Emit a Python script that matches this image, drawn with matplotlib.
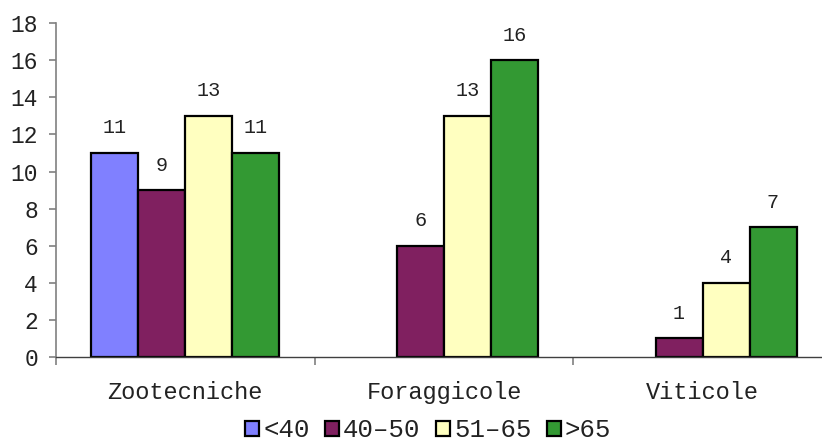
import matplotlib.pyplot as plt
import numpy as np

categories = ["Zootecniche", "Foraggicole", "Viticole"]
series_labels = ["<40", "40\u201250", "51\u201265", ">65"]
values = {
    "<40": [11, 0, 0],
    "40\u201250": [9, 6, 1],
    "51\u201265": [13, 13, 4],
    ">65": [11, 16, 7],
}
colors = ["#8080FF", "#802060", "#FFFFC0", "#339933"]

plt.rcParams["font.family"] = ["Liberation Mono", "DejaVu Sans Mono"]

fig = plt.figure(figsize=(8.22, 4.41), dpi=100)
ax = fig.add_axes([0.0681, 0.1905, 0.944, 0.757])

x = np.arange(len(categories))
width = 0.1815
for i, (lab, col) in enumerate(zip(series_labels, colors)):
    pos = x + (i - 1.5) * width
    for p, v in zip(pos, values[lab]):
        if v == 0:
            continue
        ax.bar(p, v, width, color=col, edgecolor="black", linewidth=1.6)
        ax.text(p, v + 1.35, str(v), ha="center", va="center", fontsize=14.5,
                color="#222222")

ax.set_xlim(-0.5, 2.5)
ax.set_ylim(0, 18)
ax.set_yticks(range(0, 19, 2))
ax.tick_params(axis="y", labelsize=16.5, length=5, color="#808080", width=1.2,
               pad=8, labelcolor="#222222")
ax.set_xticks(x)
ax.set_xticklabels(categories, fontsize=17, color="#222222")
ax.set_xticks([-0.5, 0.5, 1.5, 2.5], minor=True)
ax.tick_params(axis="x", which="major", length=0, pad=17)
ax.tick_params(axis="x", which="minor", length=6, color="#808080", width=1.2)

for s in ["top", "right"]:
    ax.spines[s].set_visible(False)
ax.spines["left"].set_color("#808080")
ax.spines["left"].set_linewidth(1.2)
ax.spines["bottom"].set_color("#404040")
ax.spines["bottom"].set_linewidth(1.0)

handles = [plt.Rectangle((0, 0), 1, 1, facecolor=c, edgecolor="black", linewidth=1.6)
           for c in colors]
fig.legend(handles, series_labels, loc="center", bbox_to_anchor=(0.521, 0.024),
           ncol=4, frameon=False, fontsize=18.5, handlelength=0.55, handleheight=0.55,
           handletextpad=0.15, columnspacing=0.6, borderpad=0, labelcolor="#222222")

fig.savefig("out.png", dpi=100)
